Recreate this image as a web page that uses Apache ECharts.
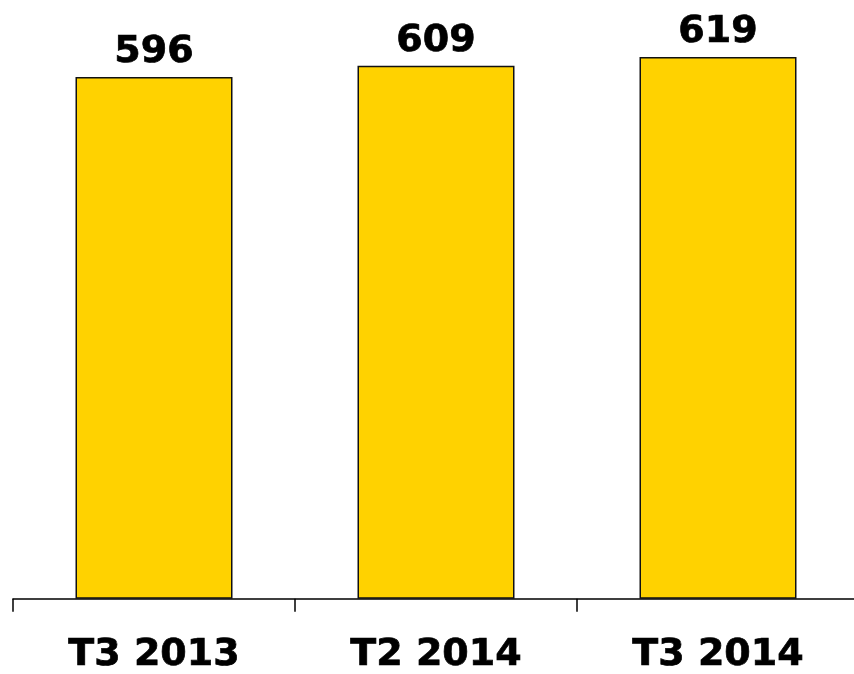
<!DOCTYPE html>
<html><head><meta charset="utf-8">
<script src="https://cdn.jsdelivr.net/npm/echarts@6/dist/echarts.min.js"></script>
<style>html,body{margin:0;padding:0;background:#fff;overflow:hidden;width:854px;height:674px}#c{width:860px;height:674px}</style>
</head><body><div id="c"></div>
<script>
const categories = ['T3 2013', 'T2 2014', 'T3 2014'];
const values = [596, 609, 619];
const chart = echarts.init(document.getElementById('c'));
chart.setOption({
  animation: false,
  grid: {left: 13, right: 1, top: 0, bottom: 71, containLabel: false},
  xAxis: {
    type: 'category', data: categories,
    axisLine: {lineStyle: {color: '#000', width: 1.5}},
    axisTick: {show: true, length: 13, lineStyle: {color: '#000', width: 1.5}},
    axisLabel: {fontFamily: 'DejaVu Sans', fontWeight: 'bold', fontSize: 38, color: '#000', margin: 37,
      textBorderColor: '#000', textBorderWidth: 0.7}
  },
  yAxis: {type: 'value', min: 0, max: 684, show: false, splitLine: {show: false}},
  series: [{
    type: 'bar', data: values, barWidth: 157,
    itemStyle: {color: '#FFD200', borderColor: '#111', borderWidth: 1.5},
    label: {show: true, position: 'top', distance: 6, fontFamily: 'DejaVu Sans', fontWeight: 'bold', fontSize: 38, color: '#000',
      textBorderColor: '#000', textBorderWidth: 0.7}
  }]
});
</script></body></html>
